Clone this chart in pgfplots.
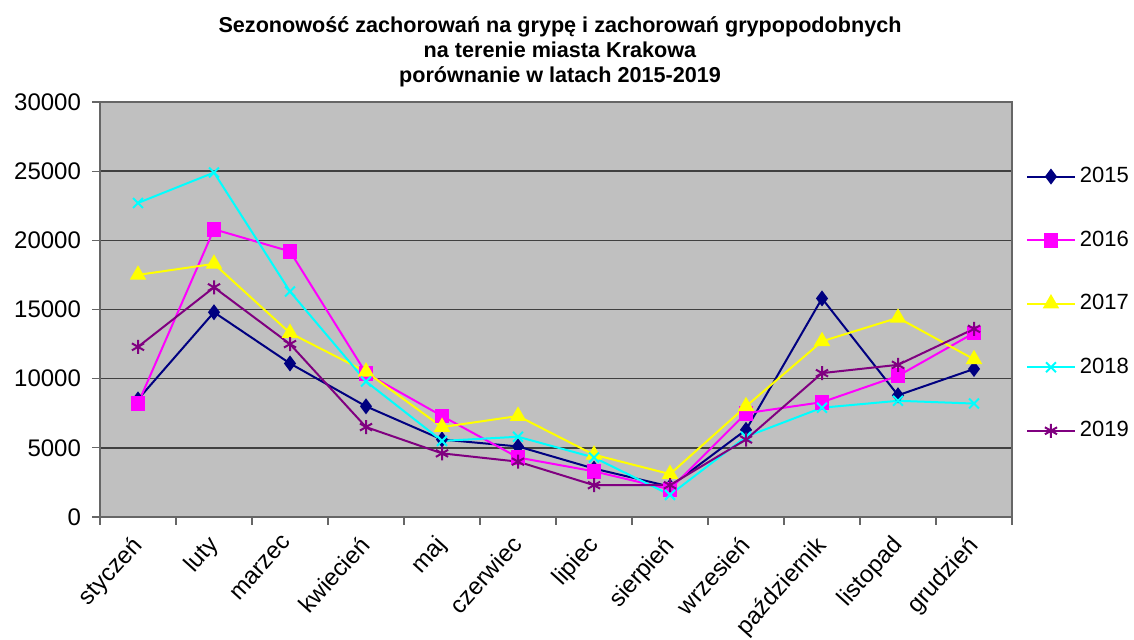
\documentclass[border=0pt]{standalone}
\usepackage{pgfplots}
\pgfplotsset{compat=1.18}
\usepackage{fontspec}
\setmainfont{Liberation Sans}
\definecolor{c15}{HTML}{000080}
\definecolor{c16}{HTML}{FF00FF}
\definecolor{c17}{HTML}{FFFF00}
\definecolor{c18}{HTML}{00FFFF}
\definecolor{c19}{HTML}{800080}
\definecolor{bgc}{HTML}{C0C0C0}
\begin{document}
\begin{tikzpicture}
\useasboundingbox (0pt,0pt) rectangle (567pt,320pt);
\begin{axis}[
  at={(50pt,61.5pt)}, anchor=south west,
  scale only axis, width=456pt, height=207.5pt,
  xmin=-0.5, xmax=11.5, ymin=0, ymax=30000,
  axis background/.style={fill=bgc},
  axis line style={draw=gray!80!black, line width=0.8pt},
  xtick={0,...,11},
  xticklabels={styczeń,luty,marzec,kwiecień,maj,czerwiec,lipiec,sierpień,wrzesień,październik,listopad,grudzień},
  minor xtick={-0.5,0.5,...,11.5},
  major x tick style={draw=none},
  minor x tick style={draw=gray!80!black, line width=0.6pt},
  minor tick length=4pt,
  xticklabel style={xshift=-4pt, yshift=-3pt, rotate=48, anchor=north east, font=\fontsize{12}{14}\selectfont, inner sep=1pt},
  ytick={0,5000,...,30000},
  major y tick style={draw=gray!80!black, line width=0.6pt},
  major tick length=4pt,
  tick align=outside, tick pos=left,
  yticklabel style={font=\fontsize{12}{14}\selectfont, xshift=-2pt},
  /pgf/number format/1000 sep={},
  /pgf/number format/assume math mode=true,
  scaled y ticks=false,
  ymajorgrids, grid style={draw=black!75, line width=0.8pt},
  legend style={at={(1.015,0.514)}, anchor=west, draw=none, fill=none,
     font=\fontsize{11}{13}\selectfont, row sep=18.6pt, inner sep=0pt},
  legend cell align=left,
  legend image code/.code={\draw[mark repeat=2,mark phase=2] plot coordinates {(0cm,0cm)(0.42cm,0cm)(0.84cm,0cm)};},
  every axis plot/.append style={line width=1pt},
]
\addplot[color=c15, mark=diamond*, mark size=3.2pt] coordinates {
(0,8500)(1,14800)(2,11100)(3,8000)(4,5600)(5,5100)(6,3500)(7,2200)(8,6300)(9,15800)(10,8800)(11,10700)};
\addlegendentry{2015}
\addplot[color=c16, mark=square*, mark size=3.2pt] coordinates {
(0,8200)(1,20800)(2,19200)(3,10400)(4,7300)(5,4300)(6,3300)(7,2000)(8,7500)(9,8300)(10,10200)(11,13300)};
\addlegendentry{2016}
\addplot[color=c17, mark=triangle*, mark size=3.8pt] coordinates {
(0,17500)(1,18300)(2,13300)(3,10500)(4,6500)(5,7300)(6,4500)(7,3100)(8,8000)(9,12700)(10,14400)(11,11400)};
\addlegendentry{2017}
\addplot[color=c18, mark=x, mark size=3.5pt] coordinates {
(0,22700)(1,24900)(2,16300)(3,9800)(4,5500)(5,5800)(6,4300)(7,1600)(8,5800)(9,7900)(10,8400)(11,8200)};
\addlegendentry{2018}
\addplot[color=c19, mark=asterisk, mark size=3.5pt] coordinates {
(0,12300)(1,16600)(2,12500)(3,6500)(4,4600)(5,4000)(6,2300)(7,2300)(8,5600)(9,10400)(10,11000)(11,13600)};
\addlegendentry{2019}
\end{axis}
\node[align=center, font=\bfseries\fontsize{10.8}{12.5}\selectfont, anchor=north] at (280pt,315pt)
 {Sezonowość zachorowań na grypę i zachorowań grypopodobnych\\na terenie miasta Krakowa\\porównanie w latach 2015-2019};
\end{tikzpicture}
\end{document}
